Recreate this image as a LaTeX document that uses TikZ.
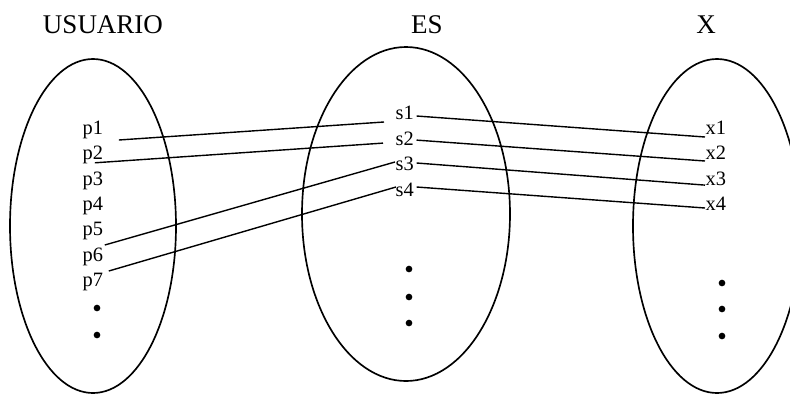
\documentclass[tikz,border=0pt]{standalone}
\usepackage{fontspec}
\setmainfont{Liberation Serif}
\usetikzlibrary{shapes.geometric}
\begin{document}
\begin{tikzpicture}[x=0.75pt, y=-0.75pt, line width=1.05pt,
  conjunto/.style={draw, ellipse, line width=1.25pt, inner sep=0pt},
  titulo/.style={font=\fontsize{20.25}{24}\selectfont, inner sep=0pt},
  elem/.style={font=\fontsize{15.3}{18}\selectfont, inner sep=0pt, anchor=base west}]
  \useasboundingbox (0,0) rectangle (790,394);
  \clip (0,0) rectangle (790,394);

  \node[conjunto, minimum width=124.5pt, minimum height=250.5pt] (usuario) at (93,226) {};
  \node[conjunto, minimum width=156pt, minimum height=250.5pt] (es) at (406,214) {};
  \node[conjunto, minimum width=126pt, minimum height=250.5pt] (x) at (717,226) {};

  \node[titulo] (tusuario) at (103,25) {USUARIO};
  \node[titulo] (tes) at (427,25) {ES};
  \node[titulo] (tx) at (706,25) {X};

  \foreach \i in {1,...,7}
    \node[elem] (p\i) at (82,{109.2+25.3*\i}) {p\i};
  \foreach \i in {1,...,4}
    \node[elem] (s\i) at (395,{93.9+25.6*\i}) {s\i};
  \foreach \i in {1,...,4}
    \node[elem] (x\i) at (705,{109.2+25.3*\i}) {x\i};

  \foreach \y in {308,335}
    \fill (97,\y) circle (2.5pt);
  \foreach \y in {269,297,323}
    \fill (409,\y) circle (2.5pt);
  \foreach \y in {283,309,336}
    \fill (722,\y) circle (2.5pt);

  % USUARIO -> ES
  \draw ([shift={(15,5.5)}]p1.base east) -- ([shift={(-11,2.5)}]s1.base west);
  \draw ([shift={(-9,3)}]p2.base east) -- ([shift={(-12,-2)}]s2.base west);
  \draw ([shift={(1,9.3)}]p5.base east) -- ([shift={(0,-8.7)}]s3.base west);
  \draw ([shift={(5,10)}]p6.base east) -- ([shift={(1,-9.3)}]s4.base west);

  % ES -> X
  \draw ([shift={(2,-3.5)}]s1.base east) -- ([shift={(0,2.5)}]x1.base west);
  \draw ([shift={(2,-5)}]s2.base east) -- ([shift={(0,1.2)}]x2.base west);
  \draw ([shift={(2,-7.7)}]s3.base east) -- (x3.base west);
  \draw ([shift={(2,-9.3)}]s4.base east) -- ([shift={(0,-2.4)}]x4.base west);
\end{tikzpicture}
\end{document}
